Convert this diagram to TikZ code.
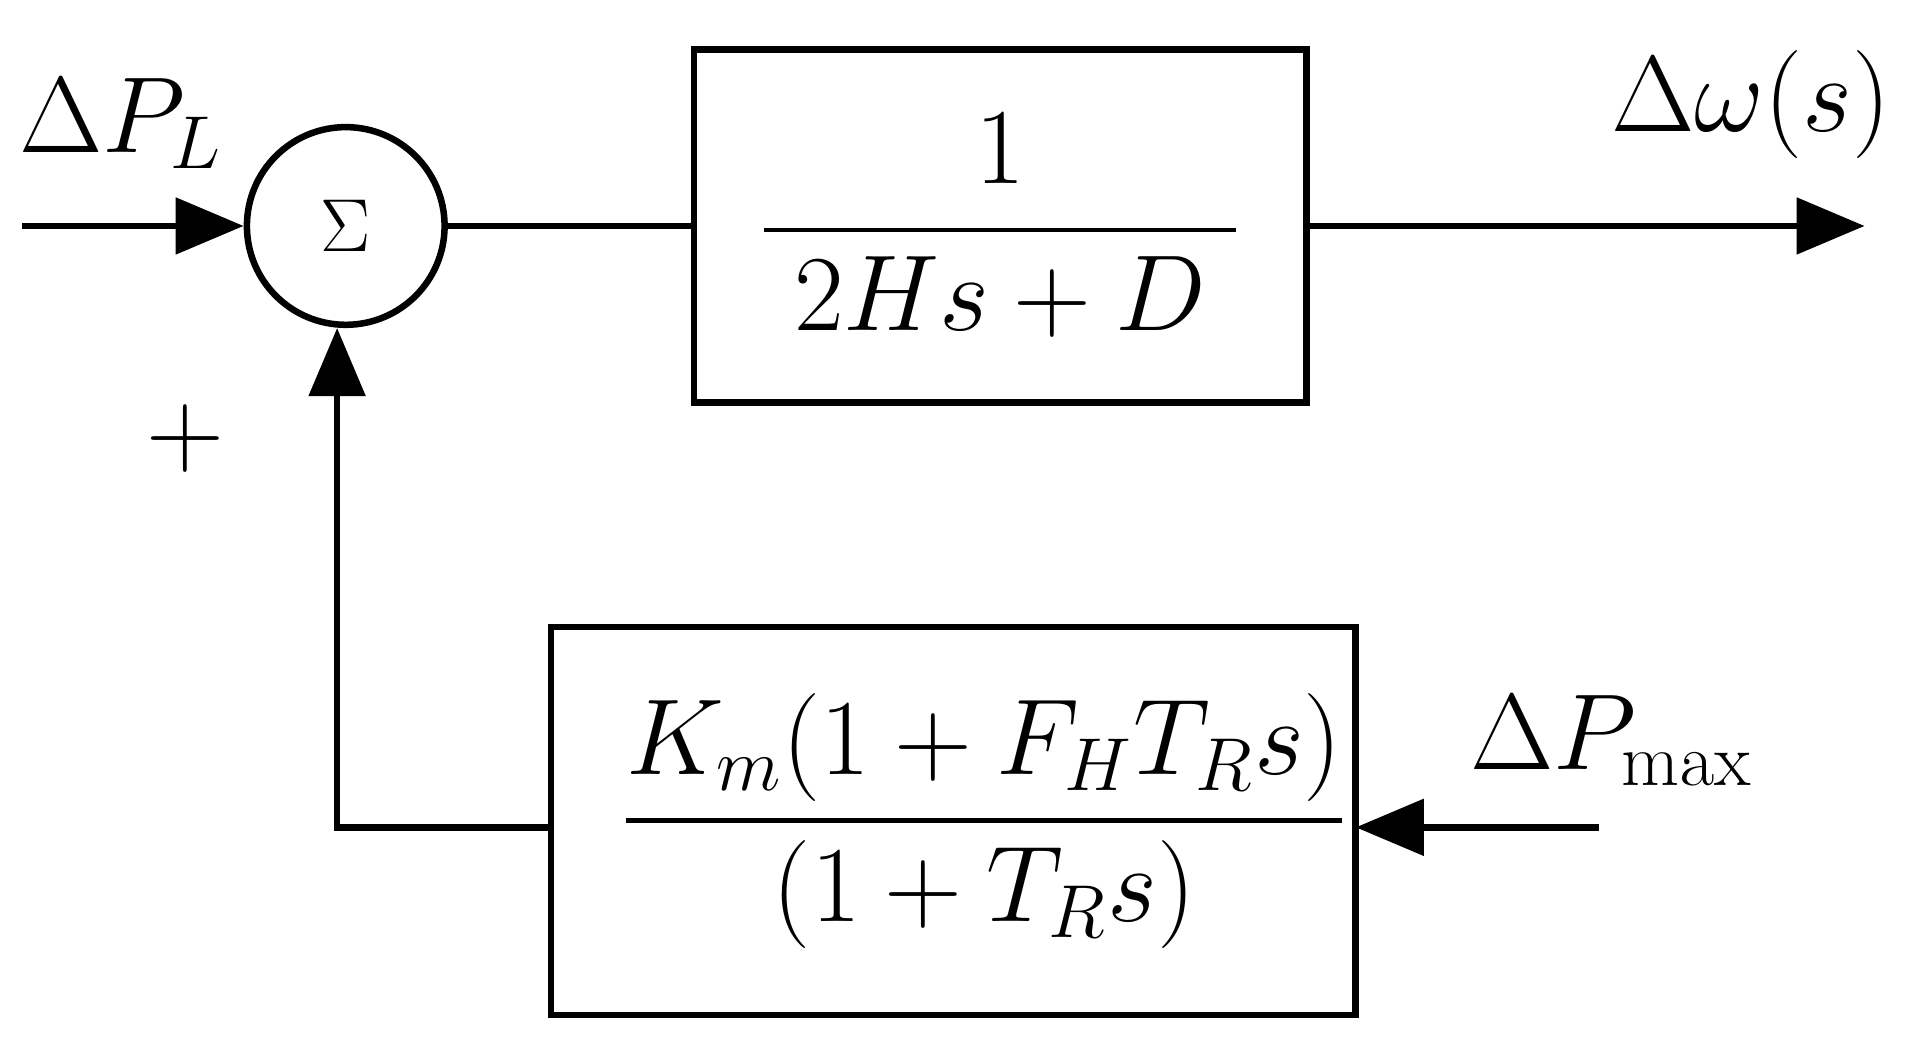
\documentclass[tikz,border=0pt]{standalone}
\usepackage{amsmath}
\usetikzlibrary{arrows.meta}
\begin{document}
\begin{tikzpicture}[x=0.01cm,y=-0.01cm,line width=1.5pt,
  blk/.style={draw,rectangle,inner sep=0pt},
  arr/.style={-{Triangle[length=0.55cm,width=0.45cm]}},
  big/.style={font=\fontsize{24}{28}\selectfont}]
\useasboundingbox (0,0) rectangle (1550,855);
\node[draw,circle,minimum size=1.6cm,inner sep=0pt,font=\fontsize{18}{20}\selectfont] (sum) at (280,183) {$\Sigma$};
\node[blk,minimum width=4.96cm,minimum height=2.86cm] (g1) at (810,183) {};
\node[big] (f1) at (810,183) {$\dfrac{1}{\;2Hs+D\;}$};
\node[blk,minimum width=6.51cm,minimum height=3.14cm] (g2) at (772,665) {};
\node[big] (f2) at (797,665) {$\dfrac{K_m(1+F_HT_Rs)}{(1+T_Rs)}$};
\coordinate (in) at (18,183);
\coordinate (out) at (1510,183);
\coordinate (pm) at (1295,670);
\coordinate (corner) at (273,670);
\draw[arr] (in) -- (sum.west);
\draw (sum.east) -- (g1.west);
\draw[arr] (g1.east) -- (out);
\draw[arr] (pm) -- (1098,670);
\draw[arr] (447,670) -- (corner) -- (sum.south-|corner);
\node[big] (lpl) at (98,100) {$\Delta P_L$};
\node[big] (lw) at (1418,85) {$\Delta\omega(s)$};
\node[big] (lpm) at (1305,600) {$\Delta P_{\max}$};
\node[big] (plus) at (150,355) {$+$};
\end{tikzpicture}
\end{document}
